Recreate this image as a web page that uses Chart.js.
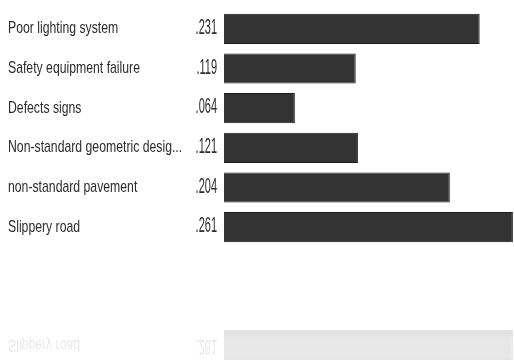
<!DOCTYPE html>
<html>
<head>
<meta charset="utf-8">
<script src="https://cdn.jsdelivr.net/npm/chart.js@4.4.0/dist/chart.umd.min.js"></script>
<style>
    html, body { margin: 0; padding: 0; background: #fff; overflow: hidden; }
    .box { position: absolute; left: 0; width: 514px; height: 360px; }
    #main { top: 0; }
    /* faded mirror image under the chart */
    #mirror {
        top: 212px;
        transform: scaleY(-1);
        opacity: 0.22;
        -webkit-mask-image: linear-gradient(to top, rgba(0,0,0,1) 26%, rgba(0,0,0,0.5) 36%);
        mask-image: linear-gradient(to top, rgba(0,0,0,1) 26%, rgba(0,0,0,0.5) 36%);
    }
</style>
</head>
<body>
<div class="box" id="main"><canvas id="barChart" width="514" height="360"></canvas></div>
<div class="box" id="mirror"><canvas id="mirrorChart" width="514" height="360"></canvas></div>
<script>
// chart data
const categories = [
    'Poor lighting system',
    'Safety equipment failure',
    'Defects signs',
    'Non-standard geometric design',
    'non-standard pavement',
    'Slippery road'
];
const values = [0.231, 0.119, 0.064, 0.121, 0.204, 0.261];

const fontFamily = "'Liberation Sans', Arial, sans-serif";

function shortLabel(s) {
    return s.length > 28 ? s.slice(0, 28) + '...' : s;
}

function fmtValue(v) {
    return v.toFixed(3).replace(/^0/, '');
}

// narrow text: draw squeezed horizontally
function narrowText(ctx, text, x, y, size, sx, align) {
    ctx.save();
    ctx.font = size + 'px ' + fontFamily;
    ctx.textAlign = align;
    ctx.textBaseline = 'alphabetic';
    ctx.translate(x, y);
    ctx.scale(sx, 1);
    ctx.fillText(text, 0, 0);
    ctx.restore();
}

// names and the value column left of the bars
const labelPlugin = {
    id: 'labelColumns',
    afterDatasetsDraw(chart) {
        const ctx = chart.ctx;
        const yScale = chart.scales.y;
        ctx.save();
        ctx.fillStyle = '#2c2c2c';
        categories.forEach(function (c, i) {
            const yc = yScale.getPixelForValue(i);
            narrowText(ctx, shortLabel(c), 8, yc + 4.5, 17, 0.72, 'left');
            narrowText(ctx, fmtValue(values[i]), chart.chartArea.left - 7, yc + 5, 22, 0.5, 'right');
        });
        ctx.restore();
    }
};

function makeChart(id) {
    return new Chart(document.getElementById(id), {
        type: 'bar',
        data: {
            labels: categories,
            datasets: [{
                data: values,
                backgroundColor: '#333333',
                borderColor: '#1c1c1c',
                borderWidth: 1,
                barPercentage: 0.76,
                categoryPercentage: 1
            }]
        },
        options: {
            indexAxis: 'y',
            responsive: false,
            animation: false,
            layout: { padding: { left: 12, top: 9, bottom: 113, right: 0 } },
            plugins: {
                legend: { display: false },
                tooltip: { enabled: false }
            },
            scales: {
                x: {
                    display: false,
                    min: 0,
                    max: 0.262
                },
                y: {
                    grid: { display: false, drawTicks: false },
                    border: { display: false },
                    ticks: { display: false },
                    afterFit: function (scale) { scale.width = 212; }
                }
            }
        },
        plugins: [labelPlugin]
    });
}

makeChart('barChart');
makeChart('mirrorChart');
</script>
</body>
</html>
